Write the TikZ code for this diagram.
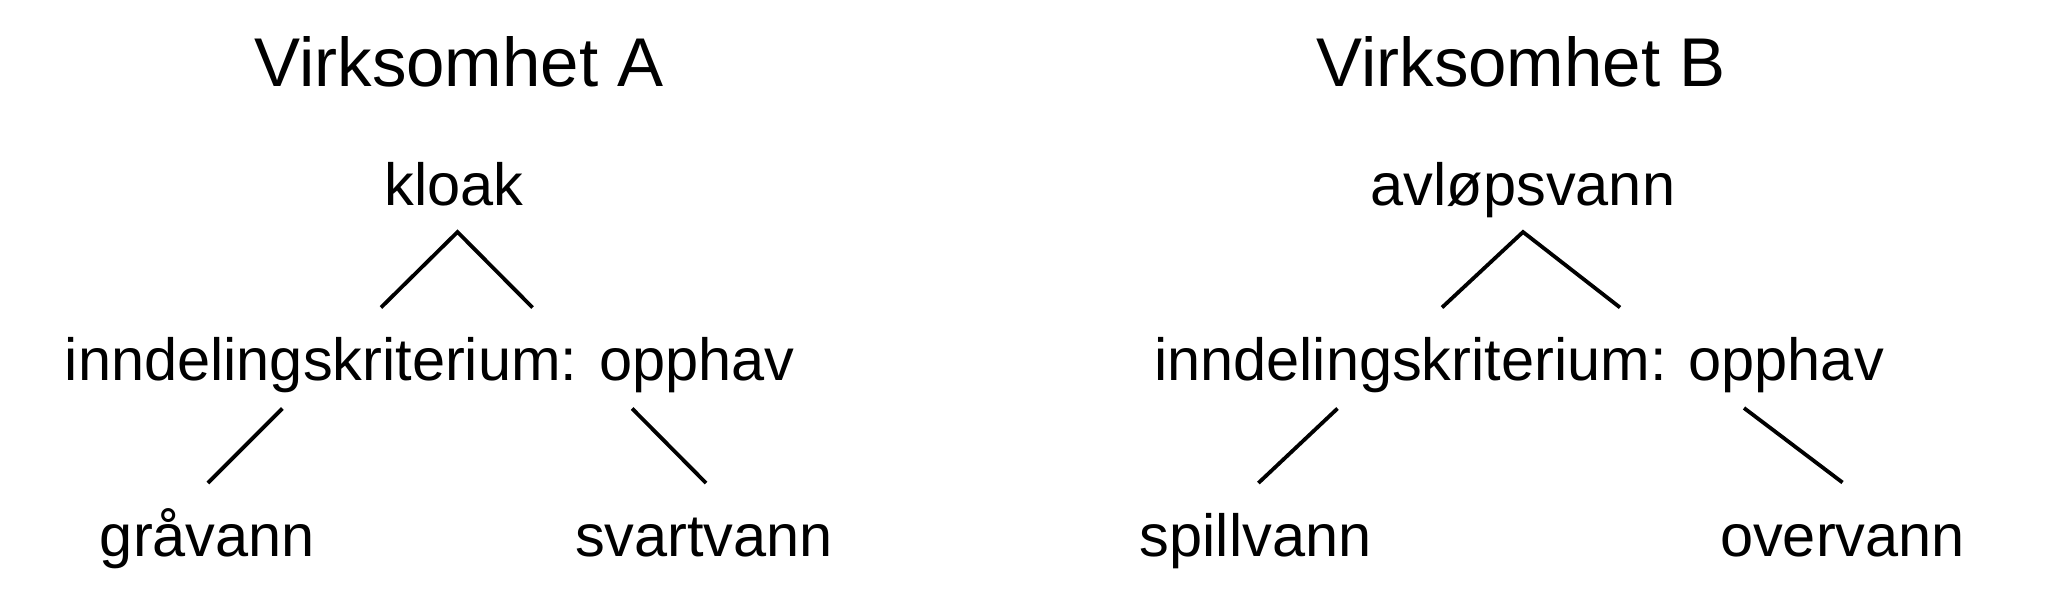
\documentclass[tikz,border=0pt]{standalone}
\usepackage{fontspec}
\setmainfont{Liberation Sans}
\begin{document}
\begin{tikzpicture}[x=1pt,y=-1pt,
  title/.style={anchor=base,inner sep=0pt,font=\fontsize{69}{83}\selectfont},
  term/.style={anchor=base,inner sep=0pt,font=\fontsize{59.5}{71}\selectfont},
  edge/.style={line width=3.8pt}]
\useasboundingbox[fill=white] (0,0) rectangle (2050,590);
% Virksomhet A
\node[title] (tA) at (459,86) {Virksomhet A};
\node[term] (kloak) at (454.3,205.7) {kloak};
\node[term] (kritA) at (429.8,380) {inndelingskriterium: opphav};
\node[term] (gra) at (207.5,556) {gråvann};
\node[term] (svart) at (704,556) {svartvann};
\coordinate (apA) at (457.5,232);
\coordinate (aL) at (381,307.5);
\coordinate (aR) at (532.5,307.5);
\coordinate (bL1) at (282.4,408.5);
\coordinate (bL2) at (207.9,483);
\coordinate (bR1) at (632.1,408.5);
\coordinate (bR2) at (706,483);
\draw[edge] (aL) -- (apA) -- (aR);
\draw[edge] (bL1) -- (bL2);
\draw[edge] (bR1) -- (bR2);
% Virksomhet B
\node[title] (tB) at (1521,86) {Virksomhet B};
\node[term] (avlop) at (1523,205.7) {avløpsvann};
\node[term] (kritB) at (1519,380) {inndelingskriterium: opphav};
\node[term] (spill) at (1255.7,556) {spillvann};
\node[term] (over) at (1842.5,556) {overvann};
\coordinate (apB) at (1523,232);
\coordinate (cL) at (1442,307.5);
\coordinate (cR) at (1620,307.5);
\coordinate (dL1) at (1337.5,408.5);
\coordinate (dL2) at (1258.4,483);
\coordinate (dR1) at (1744,408);
\coordinate (dR2) at (1842.5,482.5);
\draw[edge] (cL) -- (apB) -- (cR);
\draw[edge] (dL1) -- (dL2);
\draw[edge] (dR1) -- (dR2);
\end{tikzpicture}
\end{document}
